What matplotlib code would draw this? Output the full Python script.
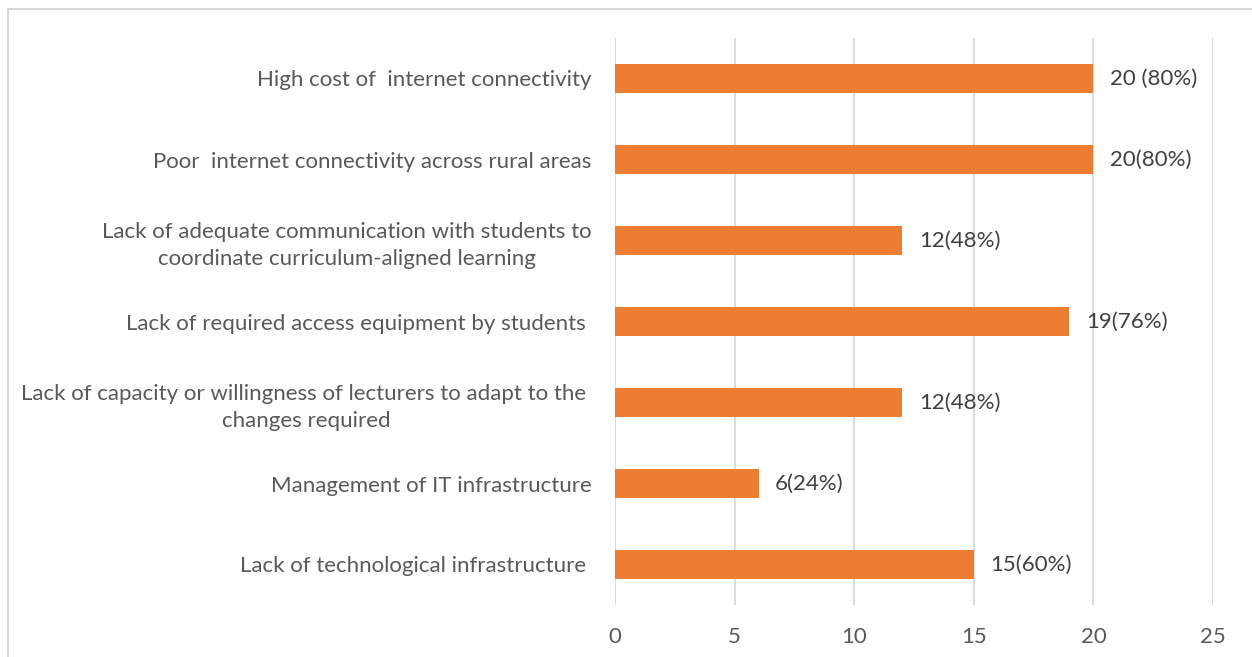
import matplotlib.pyplot as plt
from matplotlib.patches import Rectangle

BAR_COLOR = "#ED7D31"
GRID_COLOR = "#D9D9D9"
TEXT_COLOR = "#595959"

categories = [
    "Lack of technological infrastructure ",
    "Management of IT infrastructure",
    "Lack of capacity or willingness of lecturers to adapt to the \nchanges required",
    "Lack of required access equipment by students ",
    "Lack of adequate communication with students to\ncoordinate curriculum-aligned learning",
    "Poor  internet connectivity across rural areas",
    "High cost of  internet connectivity",
]
values = [15, 6, 12, 19, 12, 20, 20]
value_labels = ["15(60%)", "6(24%)", "12(48%)", "19(76%)", "12(48%)", "20(80%)", "20 (80%)"]
x_ticks = [0, 5, 10, 15, 20, 25]

plt.rcParams["font.family"] = ["Lato", "DejaVu Sans"]

fig = plt.figure(figsize=(12.52, 6.57), dpi=100)
ax = fig.add_axes([615 / 1252, 1 - 605 / 657, (1213 - 615) / 1252, (605 - 38) / 657])

positions = list(range(len(categories)))
bars = ax.barh(positions, values, height=0.35, color=BAR_COLOR, zorder=3)

for bar, label in zip(bars, value_labels):
    ax.annotate(
        label,
        (bar.get_width(), bar.get_y() + bar.get_height() / 2),
        xytext=(12, 0),
        textcoords="offset points",
        ha="left",
        va="center",
        fontsize=16,
        color="#404040",
    )

ax.set_xlim(0, 25)
ax.set_ylim(-0.5, len(categories) - 0.5)
ax.set_xticks(x_ticks)
ax.set_yticks(positions)
ax.set_yticklabels(categories, multialignment="center", linespacing=1.4)
ax.tick_params(axis="y", length=0, pad=17, labelsize=16, labelcolor=TEXT_COLOR)
ax.tick_params(axis="x", length=0, pad=16, labelsize=16, labelcolor=TEXT_COLOR)
ax.grid(axis="x", color=GRID_COLOR, linewidth=1.3, zorder=0)
for spine in ax.spines.values():
    spine.set_visible(False)

frame = Rectangle(
    (8 / 1252, -0.1),
    1.2,
    1 - 9 / 657 + 0.1,
    transform=fig.transFigure,
    fill=False,
    edgecolor=GRID_COLOR,
    linewidth=1.5,
    clip_on=False,
)
fig.patches.append(frame)

fig.savefig("out.png", dpi=100, facecolor="white")
plt.close(fig)
